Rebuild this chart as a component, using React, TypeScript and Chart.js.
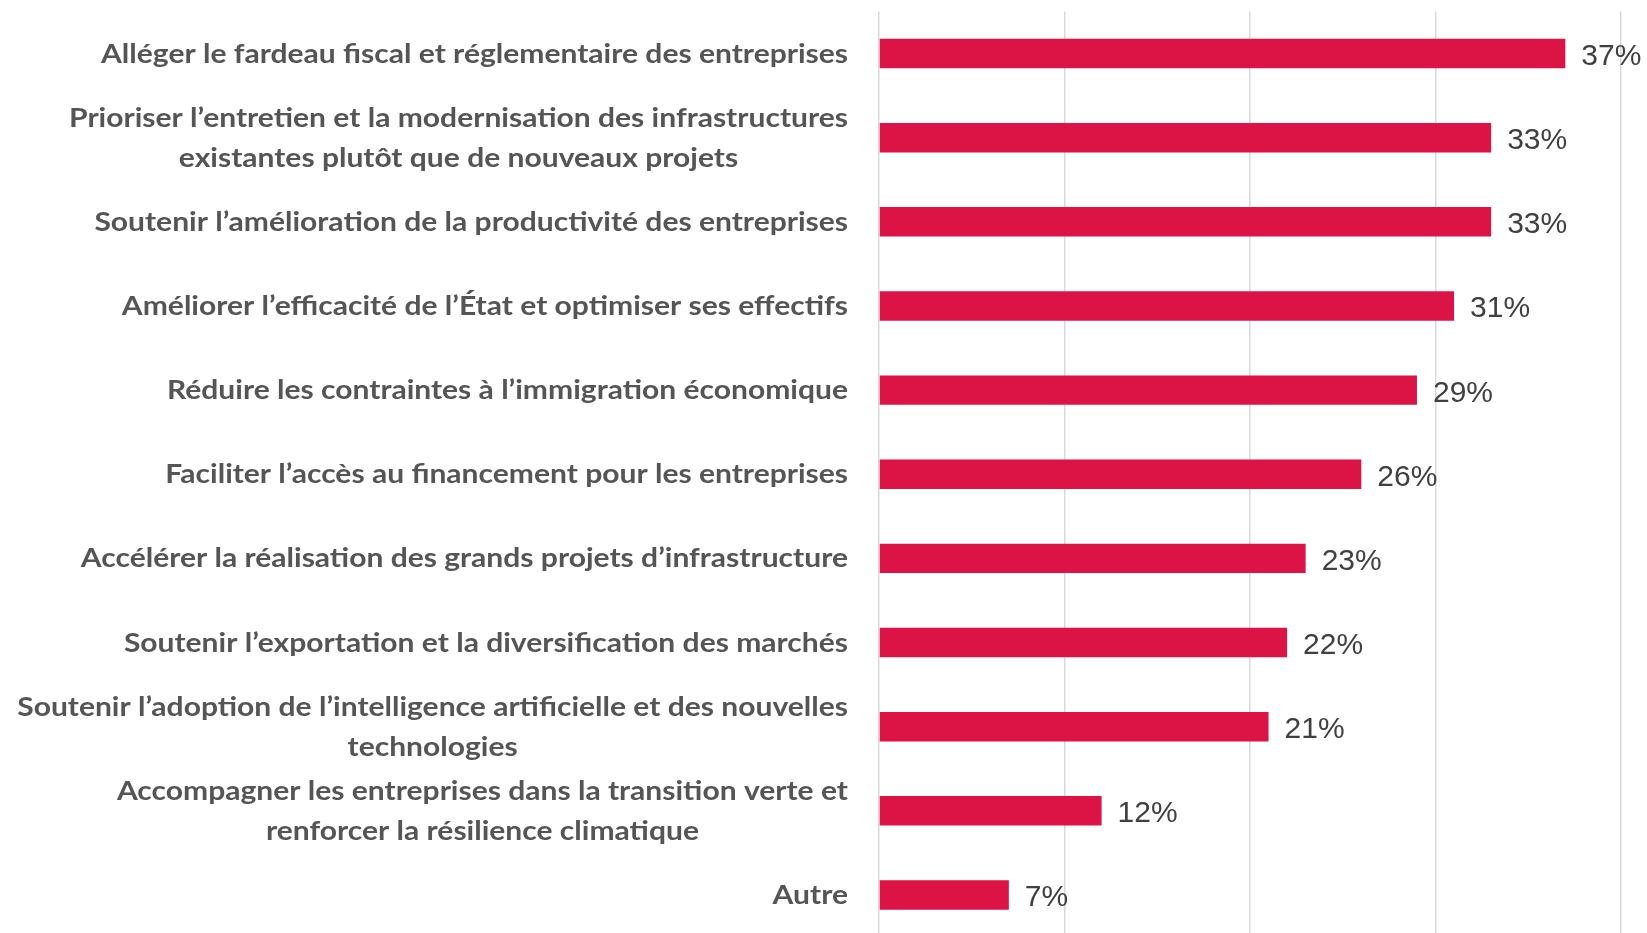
import React, { useEffect, useRef } from "react";
import { Chart, registerables } from "chart.js";

Chart.register(...registerables);

const categories: (string | string[])[] = [
  "Alléger le fardeau fiscal et réglementaire des entreprises",
  ["Prioriser l’entretien et la modernisation des infrastructures", "existantes plutôt que de nouveaux projets"],
  "Soutenir l’amélioration de la productivité des entreprises",
  "Améliorer l’efficacité de l’État et optimiser ses effectifs",
  "Réduire les contraintes à l’immigration économique",
  "Faciliter l’accès au financement pour les entreprises",
  "Accélérer la réalisation des grands projets d’infrastructure",
  "Soutenir l’exportation et la diversification des marchés",
  ["Soutenir l’adoption de l’intelligence artificielle et des nouvelles", "technologies"],
  ["Accompagner les entreprises dans la transition verte et", "renforcer la résilience climatique"],
  "Autre",
];

const values: number[] = [37, 33, 33, 31, 29, 26, 23, 22, 21, 12, 7];

const xTicks = { min: 0, max: 40, step: 10 };

const LABEL_FONT = "Lato";
const LABEL_SIZE = 26;
const VALUE_FONT = "'Liberation Sans', Arial, sans-serif";

export default function App() {
  const ref = useRef<HTMLCanvasElement | null>(null);

  useEffect(() => {
    if (!ref.current) return;

    const categoryLabels = {
      id: "categoryLabels",
      afterDraw(chart: any) {
        const ctx = chart.ctx;
        const yScale = chart.scales.y;
        const right = chart.chartArea.left - 31;
        ctx.save();
        ctx.font = `700 ${LABEL_SIZE}px ${LABEL_FONT}`;
        const refW = ctx.measureText(categories[0] as string).width || 747;
        const sx = 747 / refW;
        ctx.fillStyle = "#555555";
        ctx.textAlign = "center";
        ctx.textBaseline = "alphabetic";
        categories.forEach((cat, i) => {
          const lines = Array.isArray(cat) ? cat : [cat];
          const y = yScale.getPixelForTick(i);
          const widths = lines.map((l) => ctx.measureText(l).width * sx);
          const blockW = Math.max(...widths);
          const cx = right - blockW / 2;
          lines.forEach((l, j) => {
            const ly = y + (j - (lines.length - 1) / 2) * 40 + 9;
            ctx.save();
            ctx.translate(cx, ly);
            ctx.scale(sx, 1);
            ctx.fillText(l, 0, 0);
            ctx.restore();
          });
        });
        ctx.restore();
      },
    };

    const valueLabels = {
      id: "valueLabels",
      afterDatasetsDraw(chart: any) {
        const ctx = chart.ctx;
        const meta = chart.getDatasetMeta(0);
        ctx.save();
        ctx.font = `30px ${VALUE_FONT}`;
        ctx.fillStyle = "#404040";
        ctx.textAlign = "left";
        ctx.textBaseline = "alphabetic";
        meta.data.forEach((bar: any, i: number) => {
          ctx.fillText(`${values[i]}%`, bar.x + 16, bar.y + 11.5);
        });
        ctx.restore();
      },
    };

    const chart = new Chart(ref.current, {
      type: "bar",
      data: {
        labels: categories,
        datasets: [
          {
            data: values,
            backgroundColor: "#DC1446",
            borderWidth: 0,
            categoryPercentage: 1,
            barPercentage: 0.35,
          },
        ],
      },
      options: {
        indexAxis: "y",
        animation: false,
        responsive: false,
        maintainAspectRatio: false,
        layout: { padding: { top: 11.5, right: 26, bottom: 0, left: 0 } },
        plugins: {
          legend: { display: false },
          tooltip: { enabled: false },
        },
        scales: {
          x: {
            min: xTicks.min,
            max: xTicks.max,
            ticks: { display: false, stepSize: xTicks.step },
            grid: { color: "#D9D9D9", lineWidth: 1.5, drawTicks: false },
            border: { display: false },
            afterFit: (s: any) => {
              s.height = 0;
              s.paddingLeft = 0;
              s.paddingRight = 0;
            },
          },
          y: {
            grid: { display: false, drawTicks: false },
            border: { display: false },
            ticks: { display: false, autoSkip: false },
            afterFit: (s: any) => {
              s.width = 879;
              s.paddingTop = 0;
              s.paddingBottom = 0;
            },
          },
        },
      },
      plugins: [valueLabels, categoryLabels],
    });
    return () => chart.destroy();
  }, []);

  return (
    <div
      style={{
        position: "fixed",
        left: 0,
        top: 0,
        width: 1647,
        height: 933,
        overflow: "hidden",
        background: "#fff",
      }}
    >
      <canvas ref={ref} width={1647} height={937} style={{ display: "block" }} />
    </div>
  );
}
